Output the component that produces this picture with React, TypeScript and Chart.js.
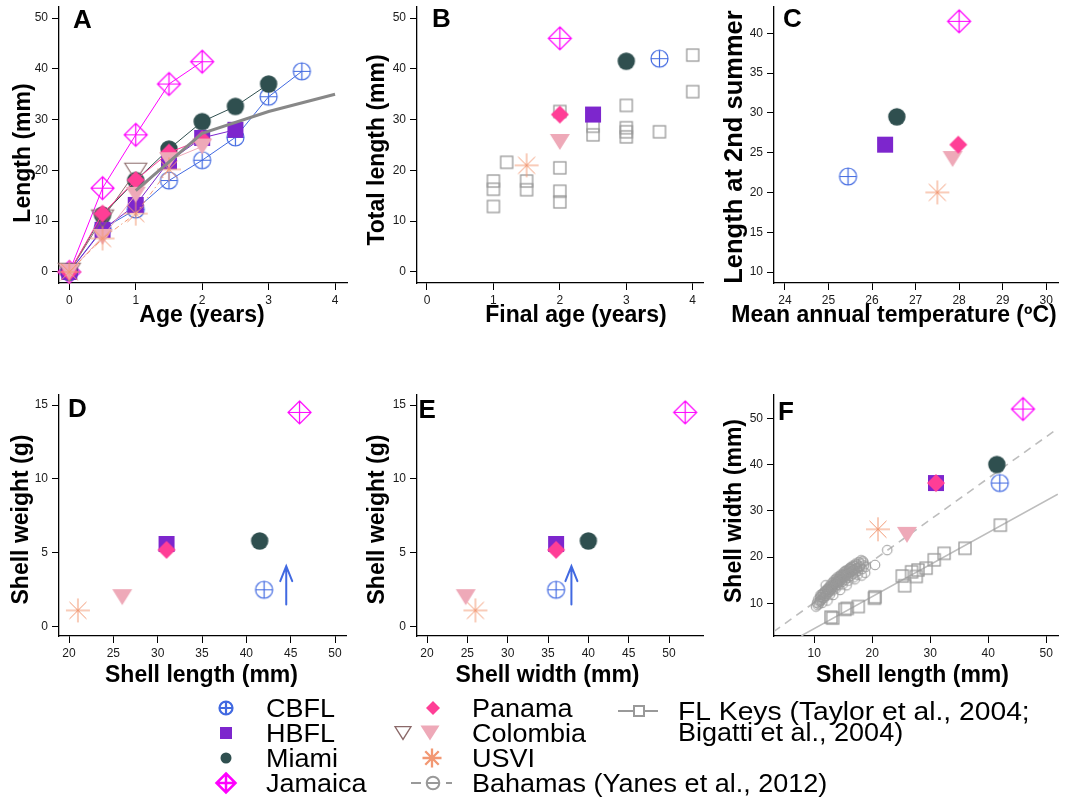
import { useEffect, useRef } from "react";
import { Chart, registerables } from "chart.js";

Chart.register(...registerables);

const FONT = '"Liberation Sans", Arial, Helvetica, sans-serif';

const COLOR = {
  cbfl: "#4169E1",
  hbfl: "#7D26CD",
  miami: "#2F4F4F",
  jamaica: "#FF00FF",
  panama: "#FF3E96",
  colombia: "#EEA9B8",
  colombiaOld: "#8B6969",
  usvi: "#F29873",
  grey: "#999999",
  greyLine: "#888888",
  fit: "#BDBDBD",
};

// Sites in legend order
const SITES = ["CBFL", "HBFL", "Miami", "Jamaica", "Panama", "Colombia", "USVI"];

// A: growth, age (years) vs length (mm)
const AGE_CBFL = [0, 0.5, 1, 1.5, 2, 2.5, 3, 3.5];
const LEN_CBFL = [0, 8.5, 12.3, 18, 22, 26.5, 34.5, 39.5];
const AGE_HBFL = [0, 0.5, 1, 1.5, 2, 2.5];
const LEN_HBFL = [0, 8.3, 13.2, 21.8, 26.4, 28];
const AGE_MIAMI = [0, 0.5, 1, 1.5, 2, 2.5, 3];
const LEN_MIAMI = [0, 11.2, 18, 24.2, 29.6, 32.6, 37];
const AGE_JAMAICA = [0, 0.5, 1, 1.5, 2];
const LEN_JAMAICA = [0, 16.5, 27, 37, 41.4];
const AGE_PANAMA = [0, 0.5, 1, 1.5, 2];
const LEN_PANAMA = [0, 11.5, 18.1, 23.5, 26.1];
const AGE_COLOMBIA_OLD = [0, 0.5, 1];
const LEN_COLOMBIA_OLD = [0, 10.5, 19.7];
const AGE_COLOMBIA = [0, 0.5, 1, 1.5, 2];
const LEN_COLOMBIA = [0, 6.9, 15.2, 22, 24.7];
const AGE_USVI = [0, 0.5, 1, 1.5];
const LEN_USVI = [0, 6.6, 11.5, 20.2];
const AGE_FLKEYS = [1, 2, 3, 4];
const LEN_FLKEYS = [16, 27.3, 31.6, 35];

// Per-site values, same order as SITES
const FINAL_AGE = [3.5, 2.5, 3, 2, 2, 2, 1.5];
const SHELL_LENGTH = [42, 31, 41.5, 46, 31, 26, 21];
const TOTAL_LENGTH = [42, 31, 41.5, 46, 31, 25.6, 21];
const MEAN_TEMP = [25.45, 26.3, 26.57, 28, 27.98, 27.85, 27.5];
const LEN_2ND_SUMMER = [22, 26, 29.5, 41.5, 26, 24.2, 20];
const SHELL_WIDTH = [36, 36, 40, 52, 36, 24.8, 26];
const SHELL_WEIGHT = [2.5, 5.6, 5.8, 14.5, 5.2, 2.0, 1.1];

// B: FL Keys final age vs total length
const FLK_FINAL_AGE = [1, 1, 1, 1.2, 1.5, 1.5, 2, 2, 2, 2, 2.5, 2.5, 3, 3, 3, 3, 3.5, 4, 4];
const FLK_TOTAL_LEN = [17.9, 16.3, 12.9, 21.6, 17.9, 16.2, 31.6, 20.5, 15.9, 13.8, 28.7, 27.0, 32.8, 28.4, 27.6, 26.6, 27.6, 42.7, 35.5];

// F: FL Keys shell length vs width
const FLK_SHELL_LEN = [12.9, 13.2, 15.3, 15.7, 17.6, 20.4, 20.5, 25.2, 25.6, 26.8, 27.6, 27.9, 29.3, 30.7, 32.4, 36.0, 42.1];
const FLK_SHELL_WID = [7.0, 6.8, 8.7, 8.9, 9.3, 11.1, 11.4, 15.9, 13.8, 16.8, 15.8, 17.2, 17.6, 19.4, 20.8, 21.9, 26.9];

// F: Bahamas shell length vs width
const BAH_SHELL_LEN = [
  10.3, 10.5, 10.7, 10.9, 11.0, 11.2, 11.3, 11.5, 11.6, 11.8, 11.9, 12.0, 12.1, 12.2, 12.4, 12.5, 12.6, 12.8,
  12.9, 13.0, 13.1, 13.3, 13.4, 13.5, 13.6, 13.8, 13.9, 14.0, 14.1, 14.2, 14.4, 14.5, 14.6, 14.7, 14.8, 15.0,
  15.1, 15.2, 15.3, 15.5, 15.6, 15.7, 15.8, 16.0, 16.1, 16.2, 16.3, 16.5, 16.6, 16.7, 16.9, 17.0, 17.1, 17.3,
  17.4, 17.6, 17.8, 18.0, 18.3, 18.4, 18.6, 20.5, 22.6, 11.4, 12.7, 13.7, 14.9, 15.9, 16.8, 17.5, 11.1, 12.3,
  13.2, 14.3, 15.4, 16.4, 12.3, 13.3, 14.5, 15.6, 17.0, 18.2, 18.8,
  10.6, 10.8, 11.0, 11.2, 11.4, 11.5, 11.7, 11.8, 12.0, 12.1, 12.3, 12.4, 12.6, 12.7, 12.9, 13.0, 13.2, 13.3,
  13.5, 13.6, 13.8, 13.9, 14.1, 14.2, 14.4, 14.5, 14.7, 14.8, 15.0, 15.1, 15.3, 15.4, 15.6, 15.8, 15.9, 16.1,
  16.3, 16.4, 16.6, 16.8, 17.0, 17.2, 17.4, 17.7, 17.9, 18.1, 18.5, 18.9,
];
const BAH_SHELL_WID = [
  9.3, 10.1, 10.8, 10.3, 11.3, 10.7, 11.9, 11.2, 12.2, 11.6, 12.7, 13.9, 12.0, 13.0, 12.4, 13.4, 12.8, 13.8,
  13.1, 14.3, 13.5, 14.6, 13.8, 15.0, 14.2, 15.3, 14.5, 15.6, 14.8, 13.9, 15.9, 15.1, 16.2, 15.4, 14.6, 16.4,
  15.7, 16.8, 15.0, 16.1, 17.1, 16.4, 15.5, 17.3, 16.6, 17.6, 15.9, 16.9, 17.8, 16.3, 17.2, 18.1, 16.7, 17.5,
  18.4, 17.0, 17.8, 18.6, 17.4, 19.1, 18.2, 18.3, 21.5, 10.1, 11.9, 13.2, 14.1, 14.9, 15.6, 16.2, 11.8, 12.9,
  14.0, 15.3, 16.5, 17.4, 10.6, 11.8, 12.9, 13.9, 15.2, 16.0, 16.6,
  9.6, 9.9, 10.5, 11.4, 11.0, 12.0, 11.1, 12.4, 11.6, 12.6, 12.1, 13.1, 12.5, 13.6, 12.9, 13.4, 12.8, 13.9,
  14.4, 13.6, 14.8, 14.0, 15.2, 14.5, 14.9, 15.7, 15.0, 16.0, 15.3, 16.2, 15.8, 17.0, 16.3, 16.9, 16.0, 17.5,
  16.8, 17.9, 17.1, 18.2, 17.4, 18.6, 17.6, 18.9, 18.0, 19.3, 18.8, 17.9,
];

// F: fitted length-width lines (end points)
const BAH_FIT_X = [3, 52];
const BAH_FIT_Y = [3.86, 47.8];
const FLK_FIT_X = [7.8, 52];
const FLK_FIT_Y = [3.0, 33.6];

// D, E: CBFL weight is a minimum (arrow)
const ARROW_WEIGHT = [1.5, 4.1];
const ARROW_LEN = 44.5;
const ARROW_WID = 37.9;

// Tick values
const TICKS_AGE = [0, 1, 2, 3, 4];
const TICKS_LEN = [0, 10, 20, 30, 40, 50];
const TICKS_TEMP = [24, 25, 26, 27, 28, 29, 30];
const TICKS_LEN2 = [10, 15, 20, 25, 30, 35, 40];
const TICKS_SHELL = [20, 25, 30, 35, 40, 45, 50];
const TICKS_WEIGHT = [0, 5, 10, 15];
const TICKS_F = [10, 20, 30, 40, 50];

type MarkerKind =
  | "cbfl" | "hbfl" | "miami" | "jamaica" | "panama"
  | "colombia" | "colombiaOld" | "usvi" | "flkeys" | "bahamas";

const SITE_MARK: MarkerKind[] = ["cbfl", "hbfl", "miami", "jamaica", "panama", "colombia", "usvi"];
// lower = drawn on top
const SITE_Z = [7, 6, 5, 4, 1, 2, 3];

function paintMarker(ctx: CanvasRenderingContext2D, kind: MarkerKind, cx: number, cy: number, r: number, lw: number) {
  ctx.save();
  ctx.lineWidth = lw;
  ctx.lineJoin = "miter";
  const diamond = () => {
    ctx.beginPath();
    ctx.moveTo(cx, cy - r);
    ctx.lineTo(cx + r, cy);
    ctx.lineTo(cx, cy + r);
    ctx.lineTo(cx - r, cy);
    ctx.closePath();
  };
  const tri = () => {
    const h = r * 1.6;
    ctx.beginPath();
    ctx.moveTo(cx - r, cy - h / 2);
    ctx.lineTo(cx + r, cy - h / 2);
    ctx.lineTo(cx, cy + h / 2);
    ctx.closePath();
  };
  switch (kind) {
    case "cbfl":
      ctx.strokeStyle = COLOR.cbfl;
      ctx.beginPath();
      ctx.arc(cx, cy, r, 0, Math.PI * 2);
      ctx.moveTo(cx - r, cy);
      ctx.lineTo(cx + r, cy);
      ctx.moveTo(cx, cy - r);
      ctx.lineTo(cx, cy + r);
      ctx.stroke();
      break;
    case "hbfl":
      ctx.fillStyle = COLOR.hbfl;
      ctx.fillRect(cx - r, cy - r, 2 * r, 2 * r);
      break;
    case "miami":
      ctx.fillStyle = COLOR.miami;
      ctx.beginPath();
      ctx.arc(cx, cy, r, 0, Math.PI * 2);
      ctx.fill();
      break;
    case "jamaica":
      ctx.strokeStyle = COLOR.jamaica;
      diamond();
      ctx.moveTo(cx, cy - r);
      ctx.lineTo(cx, cy + r);
      ctx.moveTo(cx - r, cy);
      ctx.lineTo(cx + r, cy);
      ctx.stroke();
      break;
    case "panama":
      ctx.fillStyle = COLOR.panama;
      diamond();
      ctx.fill();
      break;
    case "colombia":
      ctx.fillStyle = COLOR.colombia;
      tri();
      ctx.fill();
      break;
    case "colombiaOld":
      ctx.strokeStyle = COLOR.colombiaOld;
      tri();
      ctx.stroke();
      break;
    case "usvi": {
      ctx.strokeStyle = COLOR.usvi;
      ctx.beginPath();
      for (let k = 0; k < 4; k++) {
        const a = (k * Math.PI) / 4;
        ctx.moveTo(cx - r * Math.cos(a), cy - r * Math.sin(a));
        ctx.lineTo(cx + r * Math.cos(a), cy + r * Math.sin(a));
      }
      ctx.stroke();
      ctx.fillStyle = COLOR.usvi;
      ctx.beginPath();
      ctx.arc(cx, cy, Math.max(1.2, lw), 0, Math.PI * 2);
      ctx.fill();
      break;
    }
    case "flkeys":
      ctx.strokeStyle = COLOR.grey;
      ctx.strokeRect(cx - r, cy - r, 2 * r, 2 * r);
      break;
    case "bahamas":
      ctx.strokeStyle = COLOR.grey;
      ctx.beginPath();
      ctx.arc(cx, cy, r, 0, Math.PI * 2);
      ctx.stroke();
      break;
  }
  ctx.restore();
}

function markerImage(kind: MarkerKind, r: number, lw: number): HTMLCanvasElement {
  const pad = Math.ceil(lw) + 2;
  const size = Math.ceil(2 * r) + 2 * pad;
  const c = document.createElement("canvas");
  c.width = size;
  c.height = size;
  const ctx = c.getContext("2d")!;
  paintMarker(ctx, kind, size / 2, size / 2, r, lw);
  return c;
}

type Marks = Record<MarkerKind, HTMLCanvasElement>;

function buildMarks(): Marks {
  return {
    cbfl: markerImage("cbfl", 8.5, 1.2),
    hbfl: markerImage("hbfl", 8, 0),
    miami: markerImage("miami", 8.7, 0),
    jamaica: markerImage("jamaica", 11.5, 1.2),
    panama: markerImage("panama", 9, 0),
    colombia: markerImage("colombia", 10, 0),
    colombiaOld: markerImage("colombiaOld", 11, 1.1),
    usvi: markerImage("usvi", 12, 1),
    flkeys: markerImage("flkeys", 6, 1.3),
    bahamas: markerImage("bahamas", 4.8, 1),
  };
}

const xy = (xs: number[], ys: number[]) => xs.map((x, i) => ({ x, y: ys[i] }));

function pointSet(label: string, xs: number[], ys: number[], style: HTMLCanvasElement, order: number) {
  return {
    label,
    data: xy(xs, ys),
    pointStyle: style,
    pointRadius: 6,
    pointHoverRadius: 6,
    showLine: false,
    clip: false as const,
    order,
  };
}

function lineSet(
  label: string, xs: number[], ys: number[], color: string, width: number,
  style: HTMLCanvasElement | null, order: number, dash: number[] = [], clip = false,
) {
  return {
    label,
    data: xy(xs, ys),
    showLine: true,
    borderColor: color,
    borderWidth: width,
    borderDash: dash,
    pointStyle: style ?? "circle",
    pointRadius: style ? 6 : 0,
    pointHoverRadius: style ? 6 : 0,
    backgroundColor: color,
    ...(clip ? {} : { clip: false as const }),
    order,
  };
}

function siteSets(xs: number[], ys: number[], M: Marks) {
  return SITES.map((s, i) => pointSet(s, [xs[i]], [ys[i]], M[SITE_MARK[i]], SITE_Z[i]));
}

function linearAxis(horizontal: boolean, min: number, max: number, ticks: number[], thickness: number) {
  return {
    type: "linear" as const,
    position: horizontal ? ("bottom" as const) : ("left" as const),
    min,
    max,
    afterBuildTicks: (s: any) => {
      s.ticks = ticks.map((v) => ({ value: v }));
    },
    afterFit: (s: any) => {
      if (horizontal) s.height = thickness;
      else s.width = thickness;
      s.paddingLeft = 0;
      s.paddingRight = 0;
      s.paddingTop = 0;
      s.paddingBottom = 0;
    },
    grid: { display: true, drawOnChartArea: false, drawTicks: true, tickLength: 7, tickColor: "#000", tickWidth: 1 },
    border: { display: true, color: "#000", width: 1.3 },
    ticks: {
      font: { family: FONT, size: 12 },
      color: "#1a1a1a",
      padding: horizontal ? 3 : 4,
      maxRotation: 0,
      minRotation: 0,
      autoSkip: false,
      callback: (v: any) => String(v),
    },
    title: { display: false },
  };
}

interface TextSpec {
  letter: string;
  letterAt: [number, number];
  xTitle: string;
  xAt: [number, number];
  yTitle: string;
  yAt: [number, number];
  ySize: number;
}

function panelTextPlugin(t: TextSpec) {
  return {
    id: "panelText",
    afterDraw(chart: any) {
      const { ctx, chartArea: a } = chart;
      ctx.save();
      ctx.fillStyle = "#000";
      ctx.textAlign = "left";
      ctx.textBaseline = "alphabetic";
      ctx.font = `bold 26px ${FONT}`;
      ctx.fillText(t.letter, a.left + t.letterAt[0], a.top + t.letterAt[1]);
      ctx.textAlign = "center";
      ctx.textBaseline = "middle";
      ctx.font = `bold 23px ${FONT}`;
      ctx.fillText(t.xTitle, (a.left + a.right) / 2 + t.xAt[0], a.bottom + t.xAt[1]);
      ctx.translate(a.left + t.yAt[0], (a.top + a.bottom) / 2 + t.yAt[1]);
      ctx.rotate(-Math.PI / 2);
      ctx.font = `bold ${t.ySize}px ${FONT}`;
      ctx.fillText(t.yTitle, 0, 0);
      ctx.restore();
    },
  };
}

function arrowPlugin(xVal: number, yVals: number[]) {
  return {
    id: "minArrow",
    afterDatasetsDraw(chart: any) {
      const { ctx } = chart;
      const xs = chart.scales.x;
      const ys = chart.scales.y;
      const x = xs.getPixelForValue(xVal);
      const y0 = ys.getPixelForValue(yVals[0]);
      const y1 = ys.getPixelForValue(yVals[1]);
      ctx.save();
      ctx.strokeStyle = COLOR.cbfl;
      ctx.lineWidth = 2;
      ctx.lineCap = "round";
      ctx.beginPath();
      ctx.moveTo(x, y0);
      ctx.lineTo(x, y1);
      ctx.moveTo(x - 6, y1 + 15);
      ctx.lineTo(x, y1);
      ctx.lineTo(x + 6, y1 + 15);
      ctx.stroke();
      ctx.restore();
    },
  };
}

interface Panel {
  box: [number, number, number, number]; // canvas left, top, width, height
  area: [number, number, number, number]; // plot area left, top, right, bottom (page px)
  x: { min: number; max: number; ticks: number[] };
  y: { min: number; max: number; ticks: number[] };
  text: TextSpec;
  datasets: (M: Marks) => any[];
  arrow?: { x: number; y: number[] };
}

const PANELS: Panel[] = [
  {
    box: [0, 0, 355, 340],
    area: [59, 7, 347, 283],
    x: { min: -0.155, max: 4.18, ticks: TICKS_AGE },
    y: { min: -2.17, max: 52.17, ticks: TICKS_LEN },
    text: { letter: "A", letterAt: [14, 21], xTitle: "Age (years)", xAt: [-1, 33], yTitle: "Length (mm)", yAt: [-35, 8], ySize: 23 },
    datasets: (M) => [
      lineSet("FL Keys", AGE_FLKEYS, LEN_FLKEYS, COLOR.greyLine, 3, null, 0),
      lineSet("USVI", AGE_USVI, LEN_USVI, COLOR.usvi, 1, M.usvi, 1, [5, 3, 1.5, 3]),
      lineSet("Colombia", AGE_COLOMBIA, LEN_COLOMBIA, COLOR.colombia, 1, M.colombia, 2),
      lineSet("Panama", AGE_PANAMA, LEN_PANAMA, COLOR.panama, 1, M.panama, 3),
      lineSet("Colombia (early)", AGE_COLOMBIA_OLD, LEN_COLOMBIA_OLD, COLOR.colombiaOld, 1, M.colombiaOld, 4),
      lineSet("HBFL", AGE_HBFL, LEN_HBFL, COLOR.hbfl, 1, M.hbfl, 5),
      lineSet("Miami", AGE_MIAMI, LEN_MIAMI, COLOR.miami, 1, M.miami, 6),
      lineSet("CBFL", AGE_CBFL, LEN_CBFL, COLOR.cbfl, 1, M.cbfl, 7),
      lineSet("Jamaica", AGE_JAMAICA, LEN_JAMAICA, COLOR.jamaica, 1, M.jamaica, 8),
    ],
  },
  {
    box: [355, 0, 357, 340],
    area: [417, 7, 703, 283],
    x: { min: -0.15, max: 4.155, ticks: TICKS_AGE },
    y: { min: -2.17, max: 52.17, ticks: TICKS_LEN },
    text: { letter: "B", letterAt: [15, 20], xTitle: "Final age (years)", xAt: [16, 33], yTitle: "Total length (mm)", yAt: [-39, 5], ySize: 23 },
    datasets: (M) => [
      ...siteSets(FINAL_AGE, TOTAL_LENGTH, M),
      pointSet("FL Keys", FLK_FINAL_AGE, FLK_TOTAL_LEN, M.flkeys, 50),
    ],
  },
  {
    box: [712, 0, 353, 340],
    area: [774, 7, 1062, 283],
    x: { min: 23.75, max: 30.27, ticks: TICKS_TEMP },
    y: { min: 8.62, max: 43.3, ticks: TICKS_LEN2 },
    text: { letter: "C", letterAt: [9, 20], xTitle: "Mean annual temperature (ºC)", xAt: [-22, 33], yTitle: "Length at 2nd summer", yAt: [-39, 2], ySize: 25.5 },
    datasets: (M) => siteSets(MEAN_TEMP, LEN_2ND_SUMMER, M),
  },
  {
    box: [0, 380, 355, 320],
    area: [59, 395, 346, 636],
    x: { min: 18.87, max: 51.24, ticks: TICKS_SHELL },
    y: { min: -0.63, max: 15.68, ticks: TICKS_WEIGHT },
    text: { letter: "D", letterAt: [9, 22], xTitle: "Shell length (mm)", xAt: [-1, 40], yTitle: "Shell weight (g)", yAt: [-37, 4], ySize: 23 },
    datasets: (M) => siteSets(SHELL_LENGTH, SHELL_WEIGHT, M),
    arrow: { x: ARROW_LEN, y: ARROW_WEIGHT },
  },
  {
    box: [355, 380, 357, 320],
    area: [417, 395, 703, 636],
    x: { min: 18.76, max: 54.21, ticks: TICKS_SHELL },
    y: { min: -0.63, max: 15.68, ticks: TICKS_WEIGHT },
    text: { letter: "E", letterAt: [1.5, 23], xTitle: "Shell width (mm)", xAt: [-12.5, 40], yTitle: "Shell weight (g)", yAt: [-39.5, 4], ySize: 23 },
    datasets: (M) => siteSets(SHELL_WIDTH, SHELL_WEIGHT, M),
    arrow: { x: ARROW_WID, y: ARROW_WEIGHT },
  },
  {
    box: [712, 380, 353, 320],
    area: [774, 395, 1062, 636],
    x: { min: 3.08, max: 52.04, ticks: TICKS_F },
    y: { min: 2.93, max: 55.04, ticks: TICKS_F },
    text: { letter: "F", letterAt: [4, 25], xTitle: "Shell length (mm)", xAt: [-3.5, 40], yTitle: "Shell width (mm)", yAt: [-39, -4.5], ySize: 23 },
    datasets: (M) => [
      ...siteSets(SHELL_LENGTH, SHELL_WIDTH, M),
      pointSet("FL Keys", FLK_SHELL_LEN, FLK_SHELL_WID, M.flkeys, 55),
      pointSet("Bahamas", BAH_SHELL_LEN, BAH_SHELL_WID, M.bahamas, 60),
      lineSet("Bahamas fit", BAH_FIT_X, BAH_FIT_Y, COLOR.fit, 1.6, null, 70, [8, 6], true),
      lineSet("FL Keys fit", FLK_FIT_X, FLK_FIT_Y, COLOR.fit, 1.6, null, 71, [], true),
    ],
  },
];

function makeChart(canvas: HTMLCanvasElement, p: Panel, M: Marks) {
  const [bl, bt, bw, bh] = p.box;
  const [al, at, ar, ab] = p.area;
  const plugins: any[] = [panelTextPlugin(p.text)];
  if (p.arrow) plugins.push(arrowPlugin(p.arrow.x, p.arrow.y));
  return new Chart(canvas, {
    type: "scatter",
    data: { datasets: p.datasets(M) },
    options: {
      animation: false,
      responsive: false,
      maintainAspectRatio: false,
      devicePixelRatio: 1,
      events: [],
      layout: { padding: { left: 0, top: at - bt, right: bl + bw - ar, bottom: 0 } },
      plugins: { legend: { display: false }, tooltip: { enabled: false } },
      scales: {
        x: linearAxis(true, p.x.min, p.x.max, p.x.ticks, bt + bh - ab),
        y: linearAxis(false, p.y.min, p.y.max, p.y.ticks, al - bl),
      },
    } as any,
    plugins,
  });
}

// Legend
const LEGEND_TOP = 690;
const LEGEND_FONT = 25;

function legendText(ctx: CanvasRenderingContext2D, text: string, x: number, yMid: number, sx = 1.08) {
  ctx.save();
  ctx.translate(x, yMid + LEGEND_FONT * 0.36);
  ctx.scale(sx, 1);
  ctx.fillText(text, 0, 0);
  ctx.restore();
}

function drawLegend(canvas: HTMLCanvasElement) {
  const ctx = canvas.getContext("2d")!;
  ctx.clearRect(0, 0, canvas.width, canvas.height);
  const row = [708, 733, 758, 783].map((v) => v - LEGEND_TOP);
  ctx.fillStyle = "#000";
  ctx.font = `${LEGEND_FONT}px ${FONT}`;
  ctx.textAlign = "left";
  ctx.textBaseline = "alphabetic";

  // column 1
  paintMarker(ctx, "cbfl", 226, row[0], 6.5, 2.2);
  paintMarker(ctx, "hbfl", 226, row[1], 6, 0);
  paintMarker(ctx, "miami", 226, row[2], 5.5, 0);
  paintMarker(ctx, "jamaica", 226, row[3], 9.5, 2.5);
  legendText(ctx, SITES[0], 266, row[0]);
  legendText(ctx, SITES[1], 266, row[1]);
  legendText(ctx, SITES[2], 266, row[2]);
  legendText(ctx, SITES[3], 266, row[3]);

  // column 2
  paintMarker(ctx, "panama", 433, row[0], 7, 0);
  paintMarker(ctx, "colombiaOld", 403, row[1], 8, 1.3);
  paintMarker(ctx, "colombia", 430, row[1], 9.5, 0);
  paintMarker(ctx, "usvi", 432, row[2], 9.5, 2.3);
  ctx.save();
  ctx.strokeStyle = COLOR.grey;
  ctx.lineWidth = 2;
  ctx.beginPath();
  ctx.moveTo(411, row[3]);
  ctx.lineTo(421, row[3]);
  ctx.moveTo(427, row[3]);
  ctx.lineTo(439, row[3]);
  ctx.moveTo(446, row[3]);
  ctx.lineTo(452, row[3]);
  ctx.stroke();
  ctx.restore();
  paintMarker(ctx, "bahamas", 433, row[3], 6.3, 2);
  legendText(ctx, SITES[4], 472, row[0]);
  legendText(ctx, SITES[5], 472, row[1]);
  legendText(ctx, SITES[6], 472, row[2]);
  legendText(ctx, "Bahamas (Yanes et al., 2012)", 472, row[3]);

  // column 3
  const r3 = 711 - LEGEND_TOP;
  ctx.save();
  ctx.strokeStyle = COLOR.grey;
  ctx.lineWidth = 2;
  ctx.beginPath();
  ctx.moveTo(618, r3);
  ctx.lineTo(658, r3);
  ctx.stroke();
  ctx.restore();
  ctx.save();
  ctx.fillStyle = "#fff";
  ctx.fillRect(634, r3 - 5, 10, 10);
  ctx.restore();
  paintMarker(ctx, "flkeys", 639, r3, 5, 2);
  legendText(ctx, "FL Keys (Taylor et al., 2004;", 678, r3, 1.13);
  legendText(ctx, "Bigatti et al., 2004)", 678, 732 - LEGEND_TOP);
}

export default function App() {
  const refs = useRef<(HTMLCanvasElement | null)[]>([]);
  const legendRef = useRef<HTMLCanvasElement | null>(null);

  useEffect(() => {
    const M = buildMarks();
    const charts = PANELS.map((p, i) => makeChart(refs.current[i]!, p, M));
    if (legendRef.current) drawLegend(legendRef.current);
    return () => charts.forEach((c) => c.destroy());
  }, []);

  return (
    <div style={{ position: "absolute", left: 0, top: 0, width: 1065, height: 803, background: "#fff" }}>
      {PANELS.map((p, i) => (
        <canvas
          key={p.text.letter}
          ref={(el) => {
            refs.current[i] = el;
          }}
          width={p.box[2]}
          height={p.box[3]}
          style={{ position: "absolute", left: p.box[0], top: p.box[1], width: p.box[2], height: p.box[3] }}
        />
      ))}
      <canvas
        ref={legendRef}
        width={1065}
        height={113}
        style={{ position: "absolute", left: 0, top: LEGEND_TOP, width: 1065, height: 113 }}
      />
    </div>
  );
}
